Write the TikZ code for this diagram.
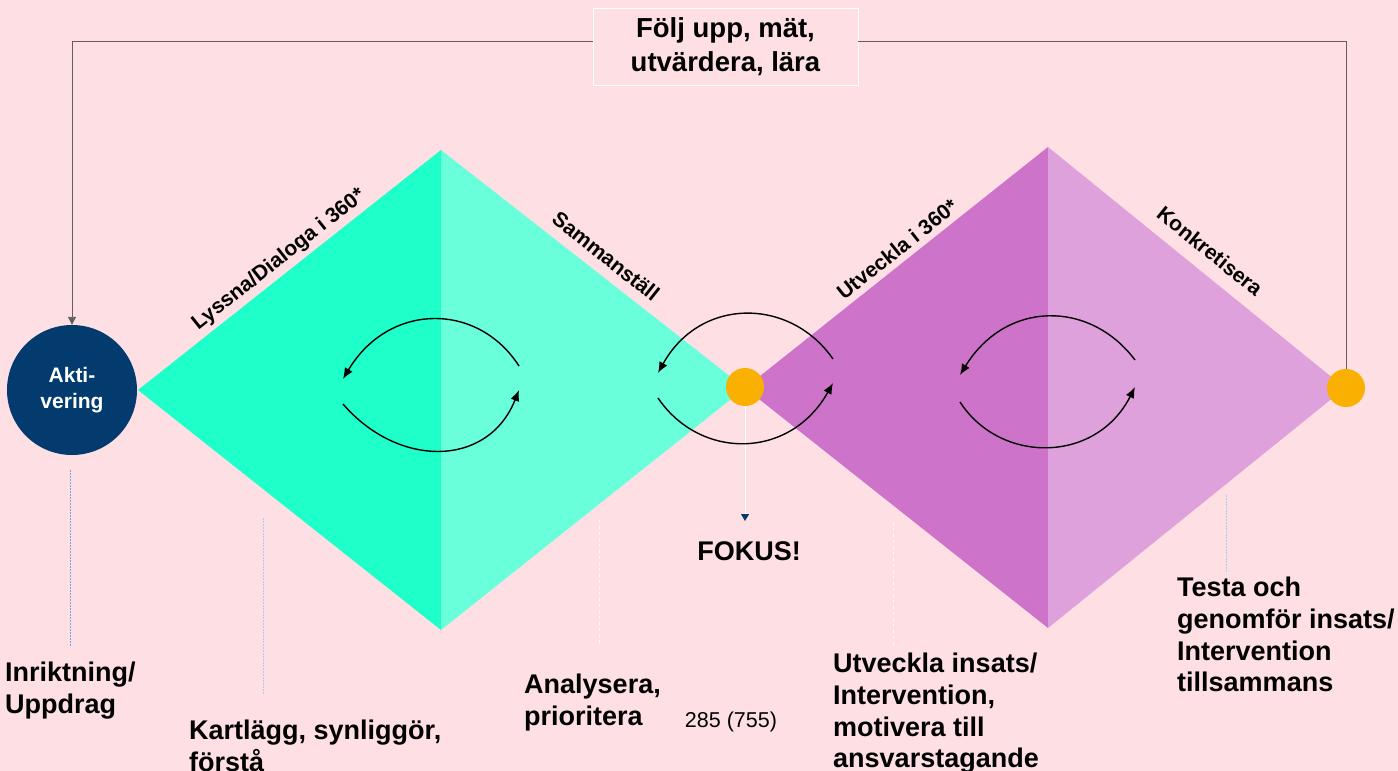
\documentclass[tikz,border=0pt]{standalone}
\usepackage{fontspec}
\setmainfont{Liberation Sans}
\usetikzlibrary{arrows.meta}

\definecolor{bgpink}{HTML}{FDDFE4}
\definecolor{navy}{HTML}{033B6E}
\definecolor{tealdark}{HTML}{1EFFC9}
\definecolor{teallight}{HTML}{69FFDB}
\definecolor{purpledark}{HTML}{CD73C9}
\definecolor{purplelight}{HTML}{DEA1DC}
\definecolor{amber}{HTML}{F9B000}
\definecolor{wire}{HTML}{5F5F5F}
\definecolor{guideblue}{HTML}{6FA8DC}
\definecolor{guidelight}{HTML}{A9CDEE}

\tikzset{
  biglabel/.style={anchor=north west, inner sep=0pt, align=left,
    font=\bfseries\fontsize{27}{31.7}\selectfont},
  edgelabel/.style={inner sep=0pt, font=\bfseries\fontsize{21}{24}\selectfont},
  dot/.style={circle, fill=amber, minimum size=38pt, inner sep=0pt},
  feedback/.style={draw=wire, line width=0.9pt},
  cyclearrow/.style={draw=black, line width=1.4pt, -{Latex[length=11pt,width=9pt]}},
  guide/.style={draw=guideblue, line width=1pt, dash pattern=on 1.5pt off 1.5pt},
  guidepale/.style={draw=guidelight, line width=1pt, dash pattern=on 1.5pt off 1.5pt},
  guidewhite/.style={draw=white, line width=1pt, dash pattern=on 3pt off 3pt, opacity=0.8}
}

\begin{document}
\begin{tikzpicture}[x=1pt, y=-1pt]
  % canvas
  \fill[bgpink] (0,0) rectangle (1398,771);
  \useasboundingbox (0,0) rectangle (1398,771);

  % diamond corners
  \coordinate (LW) at (138,390);
  \coordinate (LN) at (441,150);
  \coordinate (LS) at (441,630);
  \coordinate (LE) at (745,388);
  \coordinate (RW) at (745,388);
  \coordinate (RN) at (1048,147);
  \coordinate (RS) at (1048,628);
  \coordinate (RE) at (1345,388);

  % left diamond (two halves)
  \fill[tealdark] (LW) -- (LN) -- (LS) -- cycle;
  \fill[teallight] (LN) -- (LE) -- (LS) -- cycle;
  % right diamond (two halves)
  \fill[purpledark] (RW) -- (RN) -- (RS) -- cycle;
  \fill[purplelight] (RN) -- (RE) -- (RS) -- cycle;

  % dotted guide lines under the phases
  \coordinate (g1a) at (70,470);   \coordinate (g1b) at (70,647);
  \coordinate (g2a) at (263,518);  \coordinate (g2b) at (263,695);
  \coordinate (g3a) at (599,520);  \coordinate (g3b) at (599,646);
  \coordinate (g4a) at (893,522);  \coordinate (g4b) at (893,648);
  \coordinate (g5a) at (1226,495); \coordinate (g5b) at (1226,572);
  \draw[guide] (g1a) -- (g1b);
  \draw[guidepale] (g2a) -- (g2b);
  \draw[guidewhite] (g3a) -- (g3b);
  \draw[guidewhite] (g4a) -- (g4b);
  \draw[guidepale] (g5a) -- (g5b);

  % main nodes
  \node[circle, fill=navy, minimum size=130pt, inner sep=0pt, text=white,
        align=center, font=\bfseries\fontsize{21}{26}\selectfont]
        (akt) at (72,390) {Akti-\\vering};
  \node[dot] (fo) at (745,387) {};
  \node[dot] (ko) at (1346,388) {};

  \node[draw=white, line width=0.8pt, fill=bgpink, minimum width=265pt,
        minimum height=77pt, inner sep=0pt, align=center,
        font=\bfseries\fontsize{27.5}{34}\selectfont]
        (box) at (725.5,46.5) {Följ upp, mät,\\utvärdera, lära};

  % feedback loop over the top
  \coordinate (top) at (0,41);
  \draw[feedback, -{Triangle[length=8pt,width=8pt]}]
    (box.west |- top) -- (akt.north |- top) -- (akt.north);
  \draw[feedback] (box.east |- top) -- (ko.north |- top) -- (ko.north);

  % focus pointer
  \coordinate (fa) at (745,521);
  \draw[white, line width=1pt, -{Triangle[color=navy,length=7pt,width=8pt]}]
    (fo.south) -- (fa);

  % circular arrows, left diamond
  \coordinate (a1s) at (519,366); \coordinate (a1e) at (343,379);
  \coordinate (a2s) at (343,404); \coordinate (a2e) at (519,390);
  \draw[cyclearrow] (a1s) .. controls (478,302) and (389,302) .. (a1e);
  \draw[cyclearrow] (a2s) .. controls (398,468) and (488,468) .. (a2e);

  % circular arrows, around the focus point
  \coordinate (b1s) at (833,359); \coordinate (b1e) at (658,373);
  \coordinate (b2s) at (658,398); \coordinate (b2e) at (833,383);
  \draw[cyclearrow] (b1s) .. controls (790,297) and (700,297) .. (b1e);
  \draw[cyclearrow] (b2s) .. controls (700,460) and (790,460) .. (b2e);

  % circular arrows, right diamond
  \coordinate (c1s) at (1135,360); \coordinate (c1e) at (960,375);
  \coordinate (c2s) at (960,402);  \coordinate (c2e) at (1135,387);
  \draw[cyclearrow] (c1s) .. controls (1090,300) and (1006,300) .. (c1e);
  \draw[cyclearrow] (c2s) .. controls (1000,464) and (1096,464) .. (c2e);

  % labels along the diamond edges
  \node[edgelabel, rotate=38.4]  (lys) at (279,260)  {Lyssna/Dialoga i 360*};
  \node[edgelabel, rotate=-38.4] (sam) at (606,256)  {Sammanställ};
  \node[edgelabel, rotate=38.4]  (utv) at (897,249)  {Utveckla i 360*};
  \node[edgelabel, rotate=-39]   (kon) at (1210,251) {Konkretisera};

  % phase descriptions
  \node[biglabel] (inr) at (5,662)    {Inriktning/\\Uppdrag};
  \node[biglabel] (kar) at (189,720)  {Kartlägg, synliggör,\\förstå};
  \node[biglabel] (ana) at (524,674)  {Analysera,\\prioritera};
  \node[biglabel] (uti) at (833,653)  {Utveckla insats/\\Intervention,\\motivera till\\ansvarstagande};
  \node[biglabel] (tes) at (1177,577) {Testa och\\genomför insats/\\Intervention\\tillsammans};

  \node[inner sep=0pt, anchor=north, font=\bfseries\fontsize{27}{31.5}\selectfont]
        (fokus) at (749,541) {FOKUS!};
  \node[inner sep=0pt, anchor=north, font=\fontsize{21.5}{24}\selectfont]
        (num) at (731,712) {285 (755)};
\end{tikzpicture}
\end{document}
